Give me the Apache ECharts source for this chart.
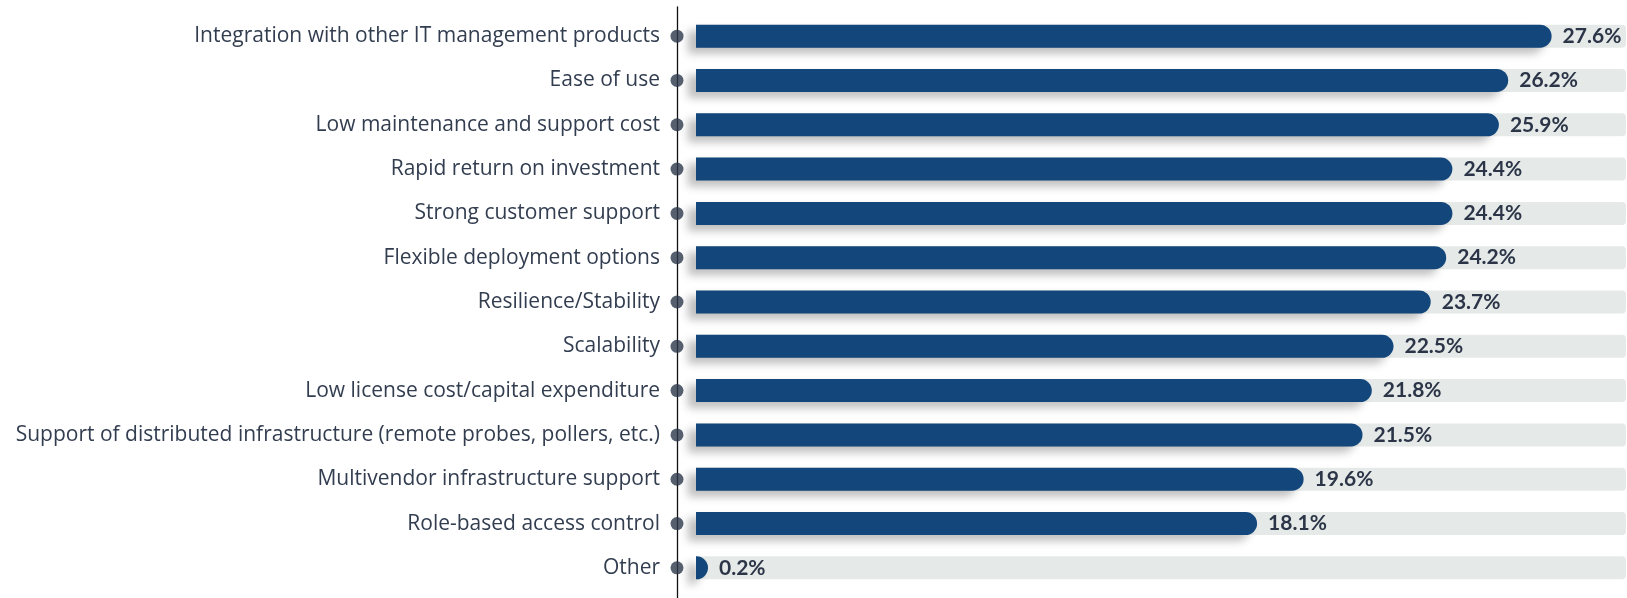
<!DOCTYPE html>
<html>
<head>
<meta charset="utf-8">
<script src="https://cdn.jsdelivr.net/npm/echarts@6/dist/echarts.min.js"></script>
<style>
  html, body { margin: 0; padding: 0; background: #fff; }
  #chart { width: 1627px; height: 598px; }
</style>
</head>
<body>
<div id="chart"></div>
<script>
// Reasons for choosing a tool, share of respondents (%)
const categories = [
  'Integration with other IT management products',
  'Ease of use',
  'Low maintenance and support cost',
  'Rapid return on investment',
  'Strong customer support',
  'Flexible deployment options',
  'Resilience/Stability',
  'Scalability',
  'Low license cost/capital expenditure',
  'Support of distributed infrastructure (remote probes, pollers, etc.)',
  'Multivendor infrastructure support',
  'Role-based access control',
  'Other'
];
const shares = [27.6, 26.2, 25.9, 24.4, 24.4, 24.2, 23.7, 22.5, 21.8, 21.5, 19.6, 18.1, 0.2];
const axisMax = 30;

const LABEL_FONT = '"Open Sans", Lato, sans-serif';
const VALUE_FONT = 'Lato, "Noto Sans", sans-serif';
const chart = echarts.init(document.getElementById('chart'), null, { renderer: 'canvas' });

chart.setOption({
  animation: false,
  grid: [
    { left: 696, right: 1, top: 14, bottom: 8 },
    // thin grid carrying the vertical spine line
    { left: 677, width: 10, top: 7, bottom: 0 }
  ],
  xAxis: [
    { type: 'value', min: 0, max: axisMax, show: false, gridIndex: 0 },
    { type: 'value', min: 0, max: 1, show: false, gridIndex: 1 }
  ],
  yAxis: [
    {
      type: 'category',
      data: categories,
      inverse: true,
      gridIndex: 0,
      offset: 19,
      axisLine: { show: false },
      axisTick: { show: false },
      axisLabel: {
        margin: 17,
        fontFamily: LABEL_FONT,
        fontSize: 21,
        color: '#323d50'
      }
    },
    {
      type: 'value',
      gridIndex: 1,
      min: 0, max: 1,
      axisLine: { show: true, lineStyle: { color: '#111', width: 1.3 } },
      axisTick: { show: false },
      axisLabel: { show: false },
      splitLine: { show: false }
    }
  ],
  series: [
    {
      type: 'bar',
      xAxisIndex: 0,
      yAxisIndex: 0,
      data: shares,
      barWidth: 23,
      barMinHeight: 12,
      showBackground: true,
      backgroundStyle: { color: '#e5eae8', borderRadius: [0, 4, 4, 0] },
      itemStyle: {
        color: '#13467b',
        borderRadius: [0, 12, 12, 0],
        shadowColor: 'rgba(0,0,0,0.25)',
        shadowBlur: 8,
        shadowOffsetX: -8,
        shadowOffsetY: 6
      },
      label: {
        show: true,
        position: 'right',
        distance: 11,
        formatter: '{c}%',
        fontFamily: VALUE_FONT,
        fontWeight: 'bold',
        fontSize: 21,
        color: '#2b3547'
      },
      z: 2
    },
    {
      // bullet dots sitting on the spine line
      type: 'scatter',
      xAxisIndex: 0,
      yAxisIndex: 0,
      data: categories.map(() => 0),
      symbol: 'circle',
      symbolSize: 13,
      symbolOffset: [-19, 0],
      clip: false,
      itemStyle: { color: '#2a374a' },
      z: 5,
      silent: true
    }
  ]
});
</script>
</body>
</html>
